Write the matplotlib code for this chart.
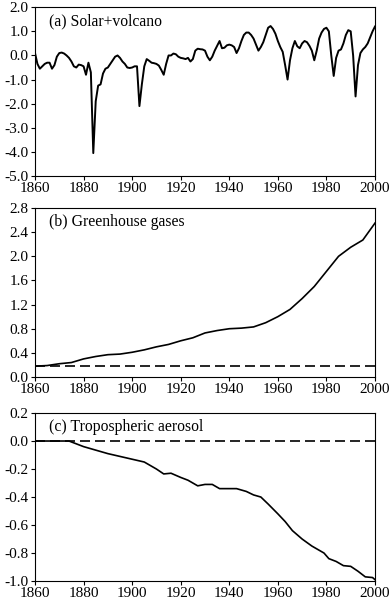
import matplotlib
matplotlib.use("Agg")
import matplotlib.pyplot as plt
from matplotlib.ticker import FormatStrFormatter

plt.rcParams['font.family'] = ['Liberation Serif', 'DejaVu Serif']
plt.rcParams['axes.unicode_minus'] = False
plt.rcParams['font.size'] = 11

# (a) solar + volcanic forcing, annual 1860-2000
solar_years = list(range(1860, 2001))
solar_volc = [
    0.1, -0.35, -0.55, -0.45, -0.35, -0.3, -0.3, -0.55, -0.4, -0.05,
    0.1, 0.12, 0.08, 0.0, -0.1, -0.25, -0.45, -0.5, -0.38, -0.4,
    -0.45, -0.8, -0.3, -0.7, -4.05, -1.9, -1.25, -1.2, -0.75, -0.55,
    -0.5, -0.35, -0.2, -0.05, 0.0, -0.1, -0.25, -0.35, -0.5, -0.52,
    -0.5, -0.45, -0.45, -2.1, -1.2, -0.45, -0.15, -0.22, -0.3, -0.32,
    -0.35, -0.42, -0.6, -0.8, -0.35, 0.0, 0.0, 0.08, 0.05, -0.05,
    -0.1, -0.12, -0.15, -0.1, -0.25, -0.15, 0.2, 0.28, 0.26, 0.25,
    0.2, -0.05, -0.2, -0.05, 0.2, 0.4, 0.6, 0.3, 0.32, 0.42,
    0.45, 0.42, 0.35, 0.1, 0.3, 0.6, 0.85, 0.95, 0.95, 0.85,
    0.7, 0.45, 0.2, 0.35, 0.55, 0.85, 1.15, 1.22, 1.1, 0.9,
    0.6, 0.35, 0.15, -0.4, -1.0, -0.2, 0.3, 0.6, 0.38, 0.3,
    0.5, 0.6, 0.55, 0.4, 0.2, -0.2, 0.2, 0.7, 0.95, 1.1,
    1.15, 1.0, 0.0, -0.85, -0.1, 0.2, 0.25, 0.5, 0.85, 1.05,
    1.0, 0.0, -1.7, -0.4, 0.1, 0.25, 0.35, 0.5, 0.75, 1.0,
    1.2,
]

# (b) greenhouse gases
ghg_years = list(range(1860, 2001, 5))
ghg = [0.18, 0.19, 0.22, 0.24, 0.3, 0.34, 0.37, 0.38, 0.41, 0.45,
       0.5, 0.54, 0.6, 0.65, 0.73, 0.77, 0.8, 0.81, 0.83, 0.9,
       1.0, 1.12, 1.3, 1.5, 1.75, 2.0, 2.15, 2.27, 2.55]
ghg_base = 0.18

# (c) tropospheric aerosol
aer_years = [1860, 1874, 1880, 1890, 1900, 1905, 1910, 1913, 1916, 1920,
             1923, 1927, 1930, 1933, 1936, 1943, 1947, 1950, 1953, 1956,
             1960, 1963, 1966, 1970, 1974, 1977, 1979, 1981, 1984, 1987,
             1990, 1993, 1996, 1999, 2000]
aerosol = [0.0, 0.0, -0.04, -0.09, -0.13, -0.15, -0.2, -0.235, -0.23, -0.26,
           -0.28, -0.32, -0.31, -0.31, -0.34, -0.34, -0.36, -0.385, -0.4, -0.45,
           -0.52, -0.575, -0.64, -0.7, -0.75, -0.78, -0.8, -0.84, -0.86, -0.89,
           -0.895, -0.93, -0.97, -0.975, -0.99]
aer_base = 0.0

labels = ["(a) Solar+volcano", "(b) Greenhouse gases", "(c) Tropospheric aerosol"]

fig = plt.figure(figsize=(3.92, 6.04), dpi=100)
left, width = 0.0893, 0.8673
ax1 = fig.add_axes([left, 0.7086, width, 0.2794])
ax2 = fig.add_axes([left, 0.3758, width, 0.2798])
ax3 = fig.add_axes([left, 0.0380, width, 0.2782])

ax1.plot(solar_years, solar_volc, color='k', lw=1.4)
ax1.set_ylim(-5.0, 2.0)
ax1.set_yticks([-5, -4, -3, -2, -1, 0, 1, 2])

ax2.plot(ghg_years, ghg, color='k', lw=1.2)
ax2.plot([1860, 2000], [ghg_base, ghg_base], color='k', lw=1.2, ls=(0, (6, 3)))
ax2.set_ylim(0.0, 2.8)
ax2.set_yticks([0.0, 0.4, 0.8, 1.2, 1.6, 2.0, 2.4, 2.8])

ax3.plot([1860, 2000], [aer_base, aer_base], color='k', lw=1.2, ls=(0, (6, 3)))
ax3.plot(aer_years, aerosol, color='k', lw=1.2)
ax3.set_ylim(-1.0, 0.2)
ax3.set_yticks([-1.0, -0.8, -0.6, -0.4, -0.2, 0.0, 0.2])

for ax, lab in zip([ax1, ax2, ax3], labels):
    ax.set_xlim(1860, 2000)
    ax.set_xticks(range(1860, 2001, 20))
    ax.yaxis.set_major_formatter(FormatStrFormatter('%.1f'))
    ax.tick_params(direction='out', length=3, width=0.8, pad=1.5, labelsize=11)
    ax.text(0.041, 0.915, lab, transform=ax.transAxes, fontsize=11.3, va='center')

fig.savefig("out.png", dpi=100)
